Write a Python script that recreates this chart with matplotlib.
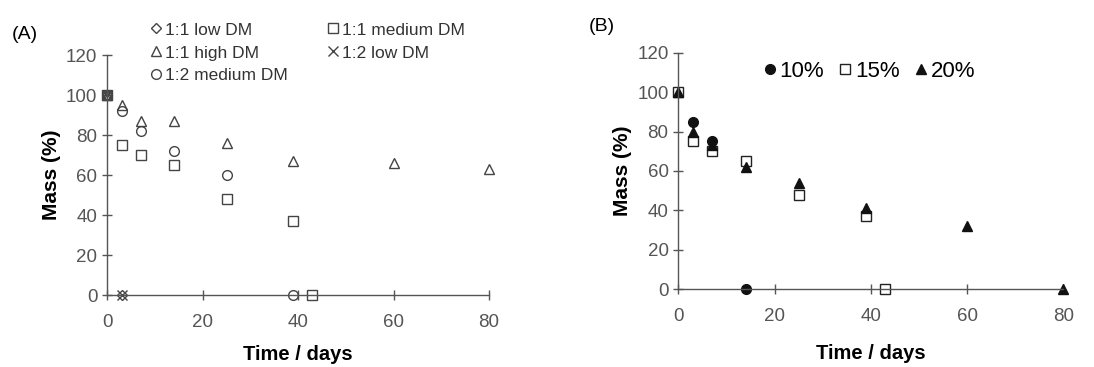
import matplotlib
matplotlib.use('Agg')
import matplotlib.pyplot as plt

plt.rcParams['font.family'] = ['Liberation Sans', 'DejaVu Sans']

# panel A
low11_t = [0, 3]
low11_m = [100, 0]
med11_t = [0, 3, 7, 14, 25, 39, 43]
med11_m = [100, 75, 70, 65, 48, 37, 0]
high11_t = [0, 3, 7, 14, 25, 39, 60, 80]
high11_m = [100, 95, 87, 87, 76, 67, 66, 63]
low12_t = [0, 3]
low12_m = [100, 0]
med12_t = [0, 3, 7, 14, 25, 39]
med12_m = [100, 92, 82, 72, 60, 0]

# panel B
p10_t = [0, 3, 7, 14]
p10_m = [100, 85, 75, 0]
p15_t = [0, 3, 7, 14, 25, 39, 43]
p15_m = [100, 75, 70, 65, 48, 37, 0]
p20_t = [0, 3, 7, 14, 25, 39, 60, 80]
p20_m = [100, 80, 73, 62, 54, 41, 32, 0]

xticks = [0, 20, 40, 60, 80]
yticks = [0, 20, 40, 60, 80, 100, 120]

grey = '#555555'
fig = plt.figure(figsize=(10.94, 3.67), dpi=100)
axA = fig.add_axes([0.098, 0.196, 0.349, 0.654])
axB = fig.add_axes([0.620, 0.2125, 0.352, 0.6435])


def style(ax, pad):
    ax.set_xlim(0, 80)
    ax.set_ylim(0, 120)
    ax.set_xticks(xticks)
    ax.set_yticks(yticks)
    for s in ['top', 'right']:
        ax.spines[s].set_visible(False)
    for s in ['left', 'bottom']:
        ax.spines[s].set_color(grey)
        ax.spines[s].set_linewidth(1.0)
    ax.tick_params(direction='inout', length=7, width=1, colors=grey,
                   labelsize=13.5, labelcolor='#555555')
    ax.tick_params(axis='x', pad=10)
    ax.set_xlabel('Time / days', fontsize=14.5, fontweight='bold', labelpad=pad)
    ax.set_ylabel('Mass (%)', fontsize=15, fontweight='bold', labelpad=4)
    for sp in ax.spines.values():
        sp.set_clip_on(False)


mk = dict(linestyle='none', clip_on=False, markersize=7, markeredgewidth=1.0)
ec = '#444444'
axA.plot(low11_t, low11_m, marker='D', markersize=5, mfc='none', mec=ec,
         linestyle='none', clip_on=False, label='1:1 low DM')
axA.plot(high11_t, high11_m, marker='^', mfc='none', mec=ec, label='1:1 high DM', **mk)
axA.plot(med12_t, med12_m, marker='o', mfc='none', mec=ec, label='1:2 medium DM', **mk)
axA.plot(med11_t, med11_m, marker='s', mfc='none', mec=ec, label='1:1 medium DM', **mk)
axA.plot(low12_t, low12_m, marker='x', color=ec, label='1:2 low DM', **mk)
style(axA, 10)
axA.legend(ncol=2, loc='upper left', bbox_to_anchor=(0.097, 1.165), frameon=False,
           fontsize=12.5, handlelength=0.6, handletextpad=0.2, columnspacing=2.3,
           labelspacing=0.45, borderaxespad=0, labelcolor='#333333')

axB.plot(p10_t, p10_m, marker='o', color='#111111', label='10%', **mk)
axB.plot(p15_t, p15_m, marker='s', mfc='white', mec='#222222', label='15%', **mk)
axB.plot(p20_t, p20_m, marker='^', color='#111111', label='20%', **mk)
style(axB, 14)
axB.legend(ncol=3, loc='upper left', bbox_to_anchor=(0.2, 1.005), frameon=False,
           fontsize=16, handlelength=0.5, handletextpad=0.2, columnspacing=0.7,
           borderaxespad=0)

fig.text(0.011, 0.895, '(A)', fontsize=14)
fig.text(0.538, 0.915, '(B)', fontsize=14)

fig.savefig('out.png', dpi=100)
